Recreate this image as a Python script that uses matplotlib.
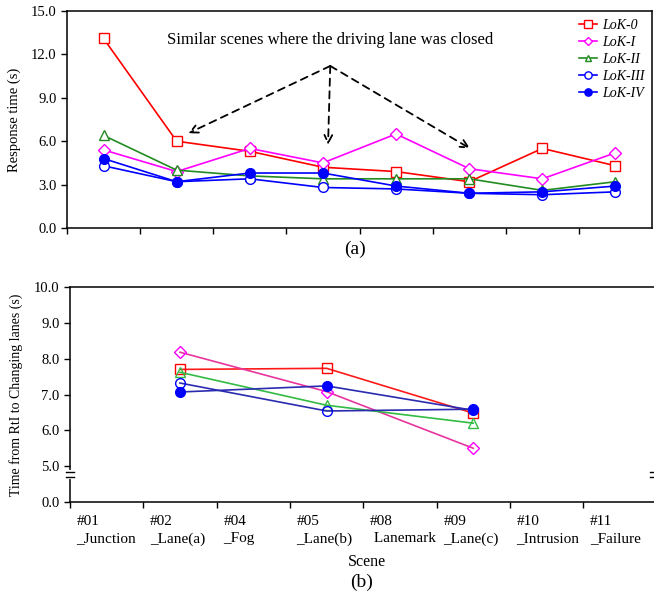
"""Two-panel response-time figure: (a) response time per scene, (b) time from
RtI to changing lanes on the lane-closed scenes, one line per LoK level."""
import matplotlib
matplotlib.use("Agg")
import matplotlib.pyplot as plt
from matplotlib.transforms import blended_transform_factory

plt.rcParams["font.family"] = ["Liberation Serif", "DejaVu Serif"]

SCENES = ["#01\n_Junction", "#02\n_Lane(a)", "#04\n_Fog", "#05\n_Lane(b)",
          "#08\n Lanemark", "#09\n_Lane(c)", "#10\n_Intrusion", "#11\n_Failure"]
LEVELS = ["LoK-0", "LoK-I", "LoK-II", "LoK-III", "LoK-IV"]

# (a) response time (s), all scenes
RESP_LOK0 = [13.1, 6.0, 5.3, 4.2, 3.9, 3.2, 5.5, 4.3]
RESP_LOK1 = [5.4, 3.9, 5.5, 4.5, 6.5, 4.1, 3.4, 5.2]
RESP_LOK2 = [6.4, 4.0, 3.6, 3.4, 3.4, 3.4, 2.6, 3.2]
RESP_LOK3 = [4.3, 3.2, 3.4, 2.8, 2.7, 2.4, 2.3, 2.5]
RESP_LOK4 = [4.8, 3.2, 3.8, 3.8, 2.9, 2.4, 2.5, 2.9]

# (b) time from RtI to changing lanes (s), lane-closed scenes only
LANE_IDX = [1, 3, 5]
CHG_LOK0 = [7.7, 7.73, 6.48]
CHG_LOK1 = [8.18, 7.08, 5.5]
CHG_LOK2 = [7.62, 6.7, 6.2]
CHG_LOK3 = [7.32, 6.54, 6.59]
CHG_LOK4 = [7.07, 7.24, 6.56]

# per level: marker, marker fill, colour in (a), line colour in (b), marker colour in (b)
STYLE = {
    "LoK-0":   ("s", "none", "#ff0000", "#ff1a1a", "#ff0000"),
    "LoK-I":   ("D", "none", "#ff00ff", "#e8359e", "#ff00ff"),
    "LoK-II":  ("^", "none", "#228b22", "#33bb44", "#33bb44"),
    "LoK-III": ("o", "none", "#0000ff", "#2b2bb0", "#0000ff"),
    "LoK-IV":  ("o", "full", "#0000ff", "#2b2bb0", "#0000ff"),
}
MSIZE = {"s": 7.5, "D": 6, "^": 6.5, "o": 7}

BREAK_SHIFT = 4.0   # (b) y axis is broken between 0 and 5; 5..10 drawn at 1..6

fig = plt.figure(figsize=(6.54, 6.0), dpi=100)
ax_a = fig.add_axes([0.1024, 0.62, 0.8946, 0.3617])
ax_b = fig.add_axes([0.107, 0.1633, 0.897, 0.3584])

x = list(range(len(SCENES)))
resp = [RESP_LOK0, RESP_LOK1, RESP_LOK2, RESP_LOK3, RESP_LOK4]
chg = [CHG_LOK0, CHG_LOK1, CHG_LOK2, CHG_LOK3, CHG_LOK4]

for name, ys, ys_b in zip(LEVELS, resp, chg):
    mk, fill, col_a, line_b, mcol_b = STYLE[name]
    ax_a.plot(x, ys, "-", color=col_a, lw=1.2, marker=mk, ms=MSIZE[mk],
              mfc=col_a if fill == "full" else "white", mec=col_a, mew=1.0,
              label=name)
    ax_b.plot(LANE_IDX, [v - BREAK_SHIFT for v in ys_b], "-", color=line_b,
              lw=1.2, marker=mk, ms=MSIZE[mk],
              mfc=mcol_b if fill == "full" else "none", mec=mcol_b, mew=1.0)

# --- panel (a)
ax_a.set_xlim(-0.5, len(SCENES) - 0.5)
ax_a.set_ylim(0, 15)
ax_a.set_yticks([0, 3, 6, 9, 12, 15])
ax_a.set_yticklabels([f"{v:.1f}" for v in [0, 3, 6, 9, 12, 15]], fontsize=10.5)
ax_a.set_xticks([i - 0.5 for i in range(len(SCENES))])
ax_a.set_xticklabels([])
ax_a.tick_params(direction="out", length=4, width=1)
ax_a.set_ylabel("Response time (s)", fontsize=10.5, labelpad=7)
for s in ax_a.spines.values():
    s.set_linewidth(1.1)
leg = ax_a.legend(loc="upper right", frameon=False,
                  prop={"style": "italic", "size": 10}, handlelength=1.3,
                  handletextpad=0.35, labelspacing=0.3, borderaxespad=0.15,
                  markerscale=0.75)

ax_a.text(3.1, 13.0, "Similar scenes where the driving lane was closed",
          ha="center", va="center", fontsize=12)
apex = (3.1, 11.2)
for head in [(1.16, 6.55), (3.07, 5.75), (5.01, 5.5)]:
    ax_a.annotate("", xy=head, xytext=apex,
                  arrowprops=dict(arrowstyle="->", ls=(0, (4, 3)), lw=1.3,
                                  color="black", shrinkA=0, shrinkB=0,
                                  mutation_scale=14))
fig.text(0.543, 0.585, "(a)", ha="center", va="center", fontsize=14)

# --- panel (b)
ax_b.set_xlim(-0.5, len(SCENES) - 0.5)
ax_b.set_ylim(0, 6)
ticks_b = [0, 5, 6, 7, 8, 9, 10]
ax_b.set_yticks([0] + [v - BREAK_SHIFT for v in ticks_b[1:]])
ax_b.set_yticklabels([f"{v:.1f}" for v in ticks_b], fontsize=10.5)
ax_b.set_xticks([i - 0.5 for i in range(len(SCENES))])
ax_b.set_xticklabels([])
ax_b.tick_params(direction="out", length=4, width=1)
ax_b.spines["right"].set_visible(False)
for s in ax_b.spines.values():
    s.set_linewidth(1.1)
for i, lab in enumerate(SCENES):
    ax_b.text(i - 0.5 + 0.09, -0.36, lab, ha="left", va="top", fontsize=11,
              linespacing=1.45)
ax_b.text(3.55, -1.45, "Scene", ha="center", va="top", fontsize=11.5)
ax_b.set_ylabel("Time from RtI to Changing lanes (s)", fontsize=10,
                labelpad=8)

# axis-break marks on the y axes
trans = blended_transform_factory(ax_b.transAxes, ax_b.transData)
for xa in (0.0, 0.996):
    ax_b.plot([xa, xa], [0.70, 0.84], color="white", lw=3, transform=trans,
              clip_on=False, zorder=5)
    for yb in (0.70, 0.84):
        ax_b.plot([xa - 0.007, xa + 0.007], [yb, yb], color="black", lw=1.0,
                  transform=trans, clip_on=False, zorder=6)
fig.text(0.553, 0.03, "(b)", ha="center", va="center", fontsize=14)

fig.savefig("out.png", dpi=100)
